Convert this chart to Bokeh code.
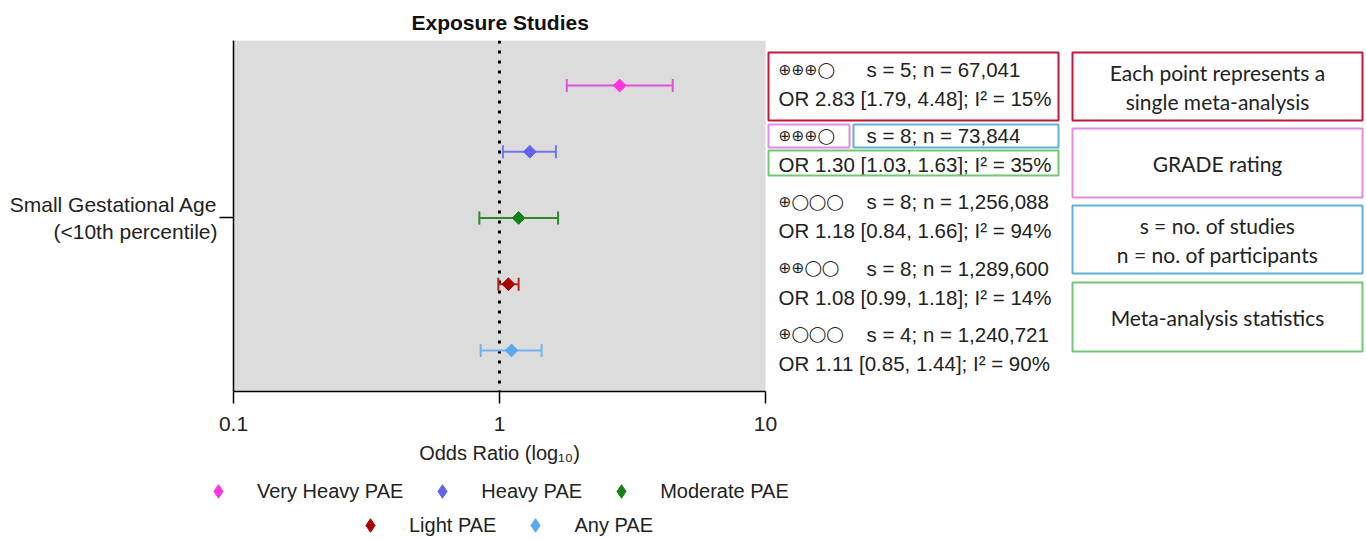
import numpy as np
from bokeh.plotting import figure
from bokeh.layouts import column
from bokeh.models import (ColumnDataSource, Whisker, TeeHead, Span, Label, BoxAnnotation,
                          FixedTicker, Legend, LegendItem, Range1d, LinearScale)
from bokeh.embed import file_html
from bokeh.resources import INLINE

# ---------------- data ----------------
groups = ["Very Heavy PAE", "Heavy PAE", "Moderate PAE", "Light PAE", "Any PAE"]
odds_ratio = [2.83, 1.30, 1.18, 1.08, 1.11]
ci_lower = [1.79, 1.03, 0.84, 0.99, 0.85]
ci_upper = [4.48, 1.63, 1.66, 1.18, 1.44]
row_pos = [5, 4, 3, 2, 1]
grade = [3, 3, 1, 2, 1]
studies = [5, 8, 8, 8, 4]
participants = [67041, 73844, 1256088, 1289600, 1240721]
i_squared = [15, 35, 94, 14, 90]
outcome_tick = [3]
outcome_label = "Small Gestational Age\n(<10th percentile)"
x_ticks = [0.1, 1, 10]
x_title = "Odds Ratio (log\u2081\u2080)"
key_texts = [["Each point represents a", "single meta-analysis"],
             ["GRADE rating"],
             ["s = no. of studies", "n = no. of participants"],
             ["Meta-analysis statistics"]]

colors = ["#ff33dd", "#6262ee", "#168016", "#a80000", "#5aa8f2"]
bar_colors = ["#e050d8", "#7474ec", "#2a8a2a", "#b82020", "#74b2ee"]
key_colors = ["#c01838", "#e38be3", "#62b0d8", "#72c872"]

FONT = "Liberation Sans"
TXT = "#222222"

# ---------------- layout constants (page pixels) ----------------
W = 1365
MAIN_H = 442
LEG_H = 96
F_LEFT, F_TOP, F_BOTTOM = 233, 40, 391
PX_PER_DECADE = 266.0
frame_w = W - F_LEFT
x_end = 10 ** (np.log10(x_ticks[0]) + frame_w / PX_PER_DECADE)
axis_mid_px = F_LEFT + PX_PER_DECADE * (np.log10(x_ticks[-1]) - np.log10(x_ticks[0])) / 2

p = figure(width=W, height=MAIN_H, x_axis_type="log", x_range=(x_ticks[0], x_end),
           y_range=(0.38, 5.68), output_backend="svg", toolbar_location=None,
           min_border_left=F_LEFT, min_border_right=0, min_border_top=F_TOP,
           min_border_bottom=MAIN_H - F_BOTTOM, background_fill_color="white",
           border_fill_color="white", outline_line_color=None)
p.xgrid.visible = False
p.ygrid.visible = False

# grey plotting panel between 0.1 and 10
p.add_layout(BoxAnnotation(left=x_ticks[0], right=x_ticks[-1], fill_color="#dcdcdc", fill_alpha=1,
                           line_color=None, level="underlay"))

p.title.text = "Exposure Studies"
p.title.align = "left"
p.title.offset = 178
p.title.text_font = FONT
p.title.text_font_size = "21px"
p.title.text_font_style = "bold"
p.title.text_color = "#111111"
p.title.standoff = 14

# x axis
xa = p.xaxis[0]
xa.ticker = FixedTicker(ticks=x_ticks)
xa.bounds = (x_ticks[0], x_ticks[-1])
xa.major_label_overrides = {t: f"{t:g}" for t in x_ticks}
xa.major_tick_out = 12
xa.major_tick_in = 0
xa.minor_tick_out = 0
xa.minor_tick_in = 0
xa.axis_line_width = 1.5
xa.major_tick_line_width = 1.5
xa.major_label_text_font = FONT
xa.major_label_text_font_size = "21px"
xa.major_label_text_color = TXT
xa.major_label_standoff = 13

# y axis
ya = p.yaxis[0]
ya.ticker = FixedTicker(ticks=outcome_tick)
ya.major_label_overrides = {outcome_tick[0]: outcome_label}
ya.major_tick_out = 14
ya.major_tick_in = 0
ya.minor_tick_out = 0
ya.minor_tick_in = 0
ya.axis_line_width = 1.5
ya.major_tick_line_width = 1.5
ya.major_label_text_font = FONT
ya.major_label_text_font_size = "21px"
ya.major_label_text_color = TXT
ya.major_label_standoff = 2

# reference line at OR = 1
p.add_layout(Span(location=1, dimension="height", line_color="black", line_width=3,
                  line_dash="3 7", level="underlay"))

# error bars
for i in range(len(groups)):
    s = ColumnDataSource(dict(y=[row_pos[i]], lo=[ci_lower[i]], hi=[ci_upper[i]]))
    w = Whisker(source=s, base="y", lower="lo", upper="hi", dimension="width",
                line_color=bar_colors[i], line_width=2, level="glyph",
                upper_head=TeeHead(size=13, line_color=bar_colors[i], line_width=2),
                lower_head=TeeHead(size=13, line_color=bar_colors[i], line_width=2))
    p.add_layout(w)

src = ColumnDataSource(dict(y=row_pos, orv=odds_ratio, color=colors))
p.scatter(x="orv", y="y", source=src, marker="square", angle=np.pi / 4, size=9,
          fill_color="color", line_color="color", level="overlay")

# pixel-like helper ranges (linear) for the side annotations (inside the frame)
p.extra_x_ranges = {"px": Range1d(F_LEFT, W)}
p.extra_x_scales = {"px": LinearScale()}
p.extra_y_ranges = {"py": Range1d(F_BOTTOM, F_TOP)}
p.extra_y_scales = {"py": LinearScale()}

for i in range(len(groups)):
    gtxt = "\u2295" * grade[i] + "\u25EF" * (4 - grade[i])
    l1 = f"s = {studies[i]}; n = {participants[i]:,}"
    l2 = f"OR {odds_ratio[i]:.2f} [{ci_lower[i]:.2f}, {ci_upper[i]:.2f}]; I\u00b2 = {i_squared[i]}%"
    p.add_layout(Label(x=778, y=row_pos[i], x_range_name="px", y_offset=16, text=gtxt,
                       text_font="DejaVu Sans", text_font_size="15.5px", text_color=TXT,
                       text_baseline="middle", text_align="left"))
    p.add_layout(Label(x=866, y=row_pos[i], x_range_name="px", y_offset=16, text=l1,
                       text_font=FONT, text_font_size="20.5px", text_color=TXT,
                       text_baseline="middle", text_align="left"))
    p.add_layout(Label(x=778, y=row_pos[i], x_range_name="px", y_offset=-13, text=l2,
                       text_font=FONT, text_font_size="20.5px", text_color=TXT,
                       text_baseline="middle", text_align="left"))

def box(l, r, t, b, c):
    p.add_layout(BoxAnnotation(left=l, right=r, top=t, bottom=b, x_range_name="px", y_range_name="py",
                               fill_color=None, fill_alpha=0, line_color=c, line_alpha=1,
                               line_width=2, level="overlay"))

box(768, 1058, 52, 120, key_colors[0])
box(768, 849, 124, 147, key_colors[1])
box(853, 1058, 124, 147, key_colors[2])
box(768, 1058, 150, 175, key_colors[3])

key_boxes = [(52, 120), (128, 197), (205, 273), (282, 351)]
for (t, b), c, lines in zip(key_boxes, key_colors, key_texts):
    box(1072, 1362, t, b, c)
    mid = (t + b) / 2
    n = len(lines)
    for j, ln in enumerate(lines):
        yy = mid + (j - (n - 1) / 2) * 29
        p.add_layout(Label(x=1217, y=yy, x_range_name="px", y_range_name="py", text=ln,
                           text_font="Lato", text_font_size="21px", text_color=TXT,
                           text_baseline="middle", text_align="center"))

# ---------------- strip below: axis title + legend ----------------
STRIP_TOP = MAIN_H
q = figure(width=W, height=LEG_H, x_range=Range1d(0, W), y_range=Range1d(STRIP_TOP + LEG_H, STRIP_TOP),
           output_backend="svg", toolbar_location=None, x_axis_location=None,
           y_axis_location=None, min_border=0, min_border_left=0, min_border_right=0,
           min_border_top=0, min_border_bottom=0, outline_line_color=None,
           background_fill_color="white", border_fill_color="white")
q.xgrid.visible = False
q.ygrid.visible = False

try:
    q.frame_align = False
    p.frame_align = False
    q_left = 0
except Exception:
    q.min_border_left = F_LEFT
    q_left = F_LEFT

# x-axis title, centred under the 0.1 - 10 axis
q.add_layout(Label(x=axis_mid_px, y=452, text=x_title, text_font=FONT, text_font_size="20px",
                   text_color=TXT, text_align="center", text_baseline="middle"))

items1, items2 = [], []
for i, g in enumerate(groups):
    r = q.scatter(x=[np.nan], y=[np.nan], marker="diamond", size=14,
                  fill_color=colors[i], line_color=colors[i])
    (items1 if i < 3 else items2).append(LegendItem(label=g, renderers=[r]))
# (x, y) of each legend's lower-left corner, relative to the strip's frame
row_left = [max(201, q_left), 353]
for items, lx, vy in ((items1, row_left[0], 30), (items2, row_left[1], -4)):
    lg = Legend(items=items, orientation="horizontal", location=(lx - q_left, vy),
                glyph_width=34, glyph_height=34, label_standoff=22, spacing=22,
                padding=0, margin=0, border_line_color=None, background_fill_alpha=0,
                label_text_font=FONT, label_text_font_size="20px", label_text_color=TXT)
    q.add_layout(lg)

layout = column(p, q, spacing=0)
open("out.html", "w").write(file_html(layout, INLINE))
